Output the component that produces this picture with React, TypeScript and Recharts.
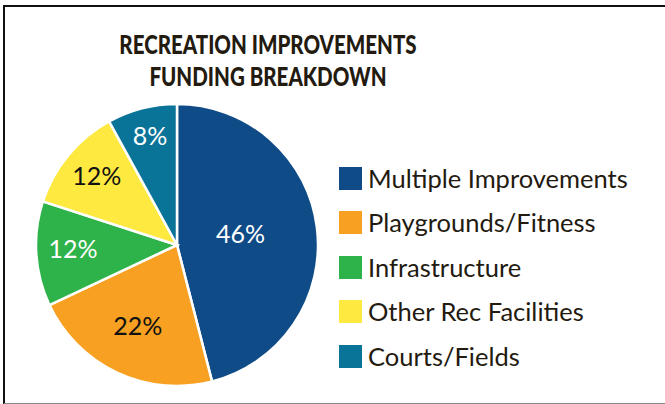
import * as React from 'react';
import { PieChart, Pie, Cell, Legend } from 'recharts';

// Data
const categories = [
  'Multiple Improvements',
  'Playgrounds/Fitness',
  'Infrastructure',
  'Other Rec Facilities',
  'Courts/Fields',
];
const shares = [46, 22, 12, 12, 8];

// Styles
const sliceColors = ['#0f4c87', '#f7a021', '#2db34a', '#fde940', '#0a7398'];
const labelColors = ['#ffffff', '#111111', '#ffffff', '#111111', '#ffffff'];
const FONT = 'Lato, "Open Sans", sans-serif';
const TEXT = '#231a10';

const data = categories.map((name, i) => ({ name, value: shares[i] }));

const RAD = Math.PI / 180;

const renderLabel = (props: any) => {
  const { cx, cy, midAngle, outerRadius, index, value } = props;
  // small slices get their label pushed further out
  const r = outerRadius * (0.84 - value * 0.0084);
  const x = cx + r * Math.cos(-midAngle * RAD);
  const y = cy + r * Math.sin(-midAngle * RAD) - 4;
  return (
    <text
      x={x}
      y={y}
      fill={labelColors[index]}
      textAnchor="middle"
      dominantBaseline="central"
      fontFamily={FONT}
      fontSize={25}
    >
      {`${value}%`}
    </text>
  );
};

const renderLegend = () => (
  <div style={{ fontFamily: FONT }}>
    {categories.map((name, i) => (
      <div
        key={name}
        style={{ display: 'flex', alignItems: 'center', height: 44.5 }}
      >
        <div
          style={{
            width: 23,
            height: 23,
            background: sliceColors[i],
            marginRight: 6,
            flexShrink: 0,
          }}
        />
        <span style={{ fontSize: 25.5, color: TEXT, lineHeight: 1, whiteSpace: 'nowrap' }}>
          {name}
        </span>
      </div>
    ))}
  </div>
);

export default function App() {
  return (
    <div
      style={{
        position: 'absolute',
        left: 0,
        top: 0,
        width: 665,
        height: 404,
        background: '#fff',
        overflow: 'hidden',
      }}
    >
      <div
        style={{
          position: 'absolute',
          left: 3,
          top: 5,
          width: 670,
          height: 396,
          borderLeft: '2px solid #111',
          borderTop: '2px solid #111',
          borderBottom: '1px solid #888',
        }}
      />
      <div
        style={{
          position: 'absolute',
          left: 68,
          width: 400,
          top: 28,
          textAlign: 'center',
          fontFamily: FONT,
          fontWeight: 900,
          fontSize: 27,
          lineHeight: '32px',
          color: TEXT,
          whiteSpace: 'nowrap',
          transform: 'scaleX(0.76)',
          transformOrigin: '200px 0',
        }}
      >
        RECREATION IMPROVEMENTS
        <br />
        FUNDING BREAKDOWN
      </div>
      <PieChart
        width={665}
        height={404}
        margin={{ top: 0, right: 0, bottom: 0, left: 0 }}
        style={{ position: 'absolute', left: 0, top: 0 }}
      >
        <Pie
          data={data}
          dataKey="value"
          nameKey="name"
          cx={177}
          cy={245}
          outerRadius={141}
          startAngle={90}
          endAngle={-270}
          stroke="#fff"
          strokeWidth={2.5}
          label={renderLabel}
          labelLine={false}
          isAnimationActive={false}
        >
          {data.map((d, i) => (
            <Cell key={d.name} fill={sliceColors[i]} />
          ))}
        </Pie>
        <Legend
          content={renderLegend}
          wrapperStyle={{ position: 'absolute', left: 339, top: 156, width: 326 }}
        />
      </PieChart>
    </div>
  );
}
